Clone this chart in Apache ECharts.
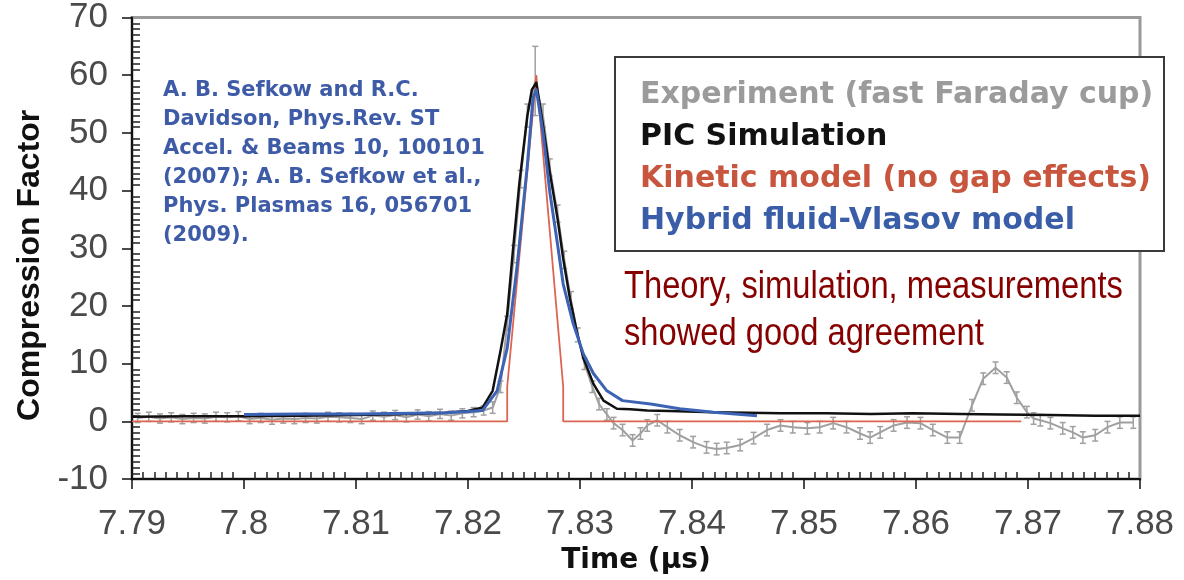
<!DOCTYPE html>
<html>
<head>
<meta charset="utf-8">
<script src="https://cdn.jsdelivr.net/npm/echarts@6/dist/echarts.min.js"></script>
<style>
  html, body { margin: 0; padding: 0; background: #fff; }
  #chart { width: 1184px; height: 580px; }
</style>
</head>
<body>
<div id="chart"></div>
<script>
// tick labels
var xTickLabels = ['7.79', '7.8', '7.81', '7.82', '7.83', '7.84', '7.85', '7.86', '7.87', '7.88'];
var yTickLabels = ['-10', '0', '10', '20', '30', '40', '50', '60', '70'];

// experiment (fast Faraday cup): time, value, error bar half height
var expT = [7.7905, 7.7915, 7.7925, 7.7935, 7.7945, 7.7955, 7.7965, 7.7975, 7.7985, 7.7995,
            7.8005, 7.8015, 7.8025, 7.8035, 7.8045, 7.8055, 7.8065, 7.8075, 7.8085, 7.8095,
            7.8105, 7.8115, 7.8125, 7.8135, 7.8145, 7.8155, 7.8165, 7.8175, 7.8185, 7.8195,
            7.8205, 7.8214,
            7.8222, 7.8229, 7.8235, 7.8241, 7.8247, 7.8253, 7.8260, 7.8267, 7.8273, 7.8280,
            7.8286, 7.8292, 7.8298, 7.8304, 7.8311, 7.8317, 7.8324,
            7.8330, 7.8338, 7.8347, 7.8354, 7.8360, 7.8369, 7.8378, 7.8389, 7.8401, 7.8413,
            7.8422, 7.8431, 7.8443, 7.8455, 7.8467, 7.8479, 7.8490, 7.8503, 7.8514, 7.8526,
            7.8538, 7.8550, 7.8559, 7.8568, 7.8580, 7.8592, 7.8604, 7.8615, 7.8628, 7.8639,
            7.8650, 7.8660, 7.8671, 7.8681, 7.8690, 7.8699, 7.8705, 7.8711, 7.8720, 7.8731,
            7.8740, 7.8749, 7.8760, 7.8771, 7.8782, 7.8794];
var expV = [0.6, 0.8, 0.5, 0.7, 0.4, 0.6, 0.5, 0.8, 0.7, 0.9,
            0.4, 0.6, 0.3, 0.5, 0.4, 0.6, 0.5, 0.8, 0.7, 0.6,
            0.4, 1.0, 0.8, 1.1, 0.7, 1.2, 0.9, 1.3, 1.0, 1.4,
            1.6, 1.9,
            2.4, 6, 17, 29, 42, 53, 59, 53, 44, 36,
            28, 21, 15, 10, 6, 3, 1.2,
            -0.3, -1.5, -3.3, -2.1, -0.7, 0.2, -1.0, -2.4, -3.6, -4.5,
            -4.8, -4.6, -4.1, -2.9, -1.5, -0.7, -1.0, -1.2, -1.0, -0.3,
            -1.0, -2.1, -2.8, -1.9, -0.7, -0.2, -0.3, -1.5, -2.8, -2.8,
            2.8, 7.4, 9.3, 7.6, 4.1, 1.6, 0.5, 0.2, -0.3, -1.2,
            -1.9, -2.8, -2.4, -1.0, -0.2, -0.2];
var expErr = [0.8, 0.8, 0.8, 0.8, 0.8, 0.8, 0.8, 0.8, 0.8, 0.8,
              0.8, 0.8, 0.8, 0.8, 0.8, 0.8, 0.8, 0.8, 0.8, 0.8,
              0.8, 0.8, 0.8, 0.8, 0.8, 0.8, 0.8, 0.8, 0.8, 0.8,
              0.8, 0.8,
              1, 1, 1.2, 1.5, 1.5, 2, 6, 2, 1.5, 1.5,
              1.5, 1.5, 1.2, 1, 1, 1, 1,
              1, 1, 1, 1, 1, 1, 1, 1, 1, 1,
              1, 1, 1, 1, 1, 1, 1, 1, 1, 1,
              1, 1, 1, 1, 1, 1, 1, 1, 1, 1,
              1, 1, 1, 1, 1, 1, 1, 1, 1, 1,
              1, 1, 1, 1, 1, 1];

// PIC simulation
var picT = [7.7900, 7.7950, 7.8000, 7.8050, 7.8100, 7.8150, 7.8180, 7.8200, 7.8213, 7.8222,
            7.8229, 7.8235, 7.8240, 7.8246, 7.8253, 7.8257, 7.8261, 7.8267, 7.8273, 7.8280,
            7.8285, 7.8291, 7.8297, 7.8303, 7.8312, 7.8321, 7.8333, 7.8345, 7.8360, 7.8380,
            7.8419, 7.8450, 7.8479, 7.8520, 7.8560, 7.8597, 7.8640, 7.8675, 7.8720, 7.8760,
            7.8800];
var picV = [0.8, 0.9, 0.9, 1.0, 1.1, 1.3, 1.5, 1.8, 2.4, 5.3,
            12.2, 18.6, 29.4, 41.5, 53.0, 57.5, 58.7, 51.3, 43.2, 35.1,
            28.2, 21.3, 15.7, 11.0, 6.5, 3.6, 2.2, 2.1, 1.9, 1.8,
            1.6, 1.5, 1.4, 1.4, 1.3, 1.4, 1.3, 1.2, 1.1, 1.0,
            1.0];

// kinetic model (no gap effects)
var kinT = [7.7900, 7.8235, 7.8235, 7.8261, 7.8285, 7.8285, 7.8694];
var kinV = [0, 0, 6, 60, 6, 0, 0];

// hybrid fluid-Vlasov model
var hybT = [7.8000, 7.8050, 7.8100, 7.8150, 7.8180, 7.8200, 7.8213, 7.8226, 7.8235, 7.8244,
            7.8253, 7.8258, 7.8261, 7.8267, 7.8273, 7.8280, 7.8285, 7.8294, 7.8303, 7.8312,
            7.8324, 7.8338, 7.8363, 7.8389, 7.8419, 7.8458];
var hybV = [1.2, 1.3, 1.3, 1.4, 1.5, 1.7, 1.9, 5.3, 12.7, 27.2,
            44.4, 56.0, 57.5, 50.0, 39.8, 30.6, 23.8, 16.9, 11.7, 8.3,
            5.3, 3.6, 3.0, 2.2, 1.6, 1.0];

var seriesNames = ['Experiment (fast Faraday cup)', 'PIC Simulation',
                   'Kinetic model (no gap effects)', 'Hybrid fluid-Vlasov model'];
var citeLines = ['A. B. Sefkow and R.C.', 'Davidson, Phys.Rev. ST', 'Accel. & Beams 10, 100101',
                 '(2007); A. B. Sefkow et al.,', 'Phys. Plasmas 16, 056701', '(2009).'];
var noteLines = ['Theory, simulation, measurements', 'showed good agreement'];

function pairs(xs, ys) {
  return xs.map(function (x, i) { return [x, ys[i]]; });
}

var chart = echarts.init(document.getElementById('chart'), null, { renderer: 'canvas' });

var tickFont = { fontSize: 35, color: '#4a4a4a', fontFamily: 'Liberation Sans' };
var expColor = '#a0a0a0';

var option = {
  animation: false,
  grid: { left: 132, right: 44, top: 15, bottom: 100, show: true,
          borderColor: '#9a9a9a', borderWidth: 3, backgroundColor: 'transparent' },
  legend: {
    orient: 'vertical', left: 630, top: 69, icon: 'none', itemWidth: 0, itemHeight: 0,
    itemGap: 0, selectedMode: false,
    textStyle: { fontSize: 30, fontWeight: 'bold', fontFamily: 'DejaVu Sans', lineHeight: 42 },
    data: [
      { name: seriesNames[0], textStyle: { color: '#9b9b9b' } },
      { name: seriesNames[1], textStyle: { color: '#111111' } },
      { name: seriesNames[2], textStyle: { color: '#c8553d' } },
      { name: seriesNames[3], textStyle: { color: '#3a5da8' } }
    ]
  },
  xAxis: [
    {
      type: 'value', min: 7.79, max: 7.88, interval: 0.01, position: 'bottom',
      axisLine: { show: true, onZero: false, lineStyle: { color: '#111', width: 2 } },
      axisTick: { show: true, length: 10, lineStyle: { color: '#111', width: 1.5 } },
      axisLabel: Object.assign({ margin: 28, formatter: function (v, i) { return xTickLabels[i]; } }, tickFont),
      splitLine: { show: false },
      name: 'Time (\u00b5s)', nameLocation: 'middle', nameGap: 67,
      nameTextStyle: { fontSize: 28, fontWeight: 'bold', color: '#111', fontFamily: 'DejaVu Sans' }
    },
    {
      type: 'value', min: 7.79, max: 7.88, interval: 0.01, position: 'bottom',
      axisLine: { show: false, onZero: false }, axisLabel: { show: false },
      axisTick: { show: false, inside: true },
      minorTick: { show: true, splitNumber: 10, length: 7, lineStyle: { color: '#222', width: 1.5 } },
      splitLine: { show: false }
    }
  ],
  yAxis: [
    {
      type: 'value', min: -10, max: 70, interval: 10, position: 'left',
      axisLine: { show: true, onZero: false, lineStyle: { color: '#111', width: 2 } },
      axisTick: { show: true, length: 10, lineStyle: { color: '#111', width: 1.5 } },
      axisLabel: Object.assign({ margin: 24, formatter: function (v, i) { return yTickLabels[i]; } }, tickFont),
      splitLine: { show: false },
      name: 'Compression Factor', nameLocation: 'middle', nameGap: 86, nameRotate: 90,
      nameTextStyle: { fontSize: 32, fontWeight: 'bold', color: '#111', fontFamily: 'Liberation Sans',
                       padding: [0, 34, 0, 0] }
    },
    {
      type: 'value', min: -10, max: 70, interval: 10, position: 'left',
      axisLine: { show: false, onZero: false }, axisLabel: { show: false },
      axisTick: { show: false, inside: true },
      minorTick: { show: true, splitNumber: 10, length: 8, lineStyle: { color: '#222', width: 1.5 } },
      splitLine: { show: false }
    }
  ],
  graphic: [
    { type: 'rect', left: 614, top: 56, z: 3,
      shape: { width: 549, height: 194 },
      style: { fill: '#fff', stroke: '#3a3a3a', lineWidth: 2 } },
    { type: 'text', left: 163, top: 76, z: 5,
      style: { text: citeLines.join('\n'), fontSize: 21, fontWeight: 'bold',
               fontFamily: 'DejaVu Sans', lineHeight: 29, fill: '#3d5ba6' } },
    { type: 'text', x: 624, y: 264, scaleX: 0.86, z: 5,
      style: { text: noteLines.join('\n'), fontSize: 38, fontFamily: 'Liberation Sans',
               lineHeight: 47, fill: '#860000', verticalAlign: 'top', align: 'left' } }
  ],
  series: [
    {
      name: seriesNames[0], type: 'line', data: pairs(expT, expV), showSymbol: false,
      lineStyle: { color: expColor, width: 2 }, itemStyle: { color: expColor }, z: 2
    },
    {
      name: 'errbars', type: 'custom', z: 2,
      data: expT.map(function (t, i) { return [t, expV[i], expErr[i]]; }),
      encode: { x: 0, y: 1 },
      renderItem: function (params, api) {
        var x = api.value(0), y = api.value(1), e = api.value(2);
        var top = api.coord([x, y + e]);
        var bot = api.coord([x, y - e]);
        var w = 3;
        var st = { stroke: expColor, lineWidth: 1.5 };
        return {
          type: 'group',
          children: [
            { type: 'line', shape: { x1: top[0], y1: top[1], x2: bot[0], y2: bot[1] }, style: st },
            { type: 'line', shape: { x1: top[0] - w, y1: top[1], x2: top[0] + w, y2: top[1] }, style: st },
            { type: 'line', shape: { x1: bot[0] - w, y1: bot[1], x2: bot[0] + w, y2: bot[1] }, style: st }
          ]
        };
      }
    },
    {
      name: seriesNames[2], type: 'line', data: pairs(kinT, kinV), showSymbol: false,
      lineStyle: { color: '#dc6450', width: 1.8 }, itemStyle: { color: '#c8553d' }, z: 3
    },
    {
      name: seriesNames[1], type: 'line', data: pairs(picT, picV), showSymbol: false,
      lineStyle: { color: '#111', width: 2.5, join: 'round' }, itemStyle: { color: '#111' }, z: 4
    },
    {
      name: seriesNames[3], type: 'line', data: pairs(hybT, hybV), showSymbol: false,
      lineStyle: { color: '#3d63b5', width: 3, join: 'round' }, itemStyle: { color: '#3a5da8' }, z: 5
    }
  ]
};

chart.setOption(option);
window.addEventListener('resize', chart.resize);
</script>
</body>
</html>
